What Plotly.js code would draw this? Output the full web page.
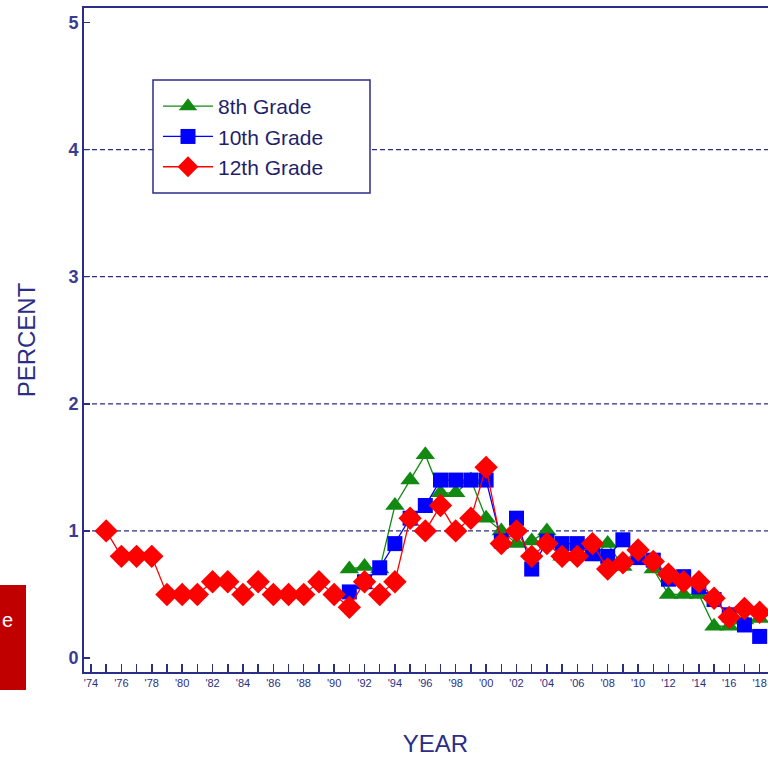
<!DOCTYPE html>
<html>
<head>
<meta charset="utf-8">
<script src="https://cdn.plot.ly/plotly-3.0.1.min.js"></script>
<style>html,body{margin:0;padding:0;overflow:hidden;background:#fff;}</style>
</head>
<body>
<div id="chart"></div>
<script>
const years12 = [1975,1976,1977,1978,1979,1980,1981,1982,1983,1984,1985,1986,1987,1988,1989,1990,1991,1992,1993,1994,1995,1996,1997,1998,1999,2000,2001,2002,2003,2004,2005,2006,2007,2008,2009,2010,2011,2012,2013,2014,2015,2016,2017,2018];
const grade12 = [1.0,0.8,0.8,0.8,0.5,0.5,0.5,0.6,0.6,0.5,0.6,0.5,0.5,0.5,0.6,0.5,0.4,0.6,0.5,0.6,1.1,1.0,1.2,1.0,1.1,1.5,0.9,1.0,0.8,0.9,0.8,0.8,0.9,0.7,0.75,0.85,0.76,0.66,0.6,0.6,0.47,0.32,0.39,0.36];
const years810 = [1991,1992,1993,1994,1995,1996,1997,1998,1999,2000,2001,2002,2003,2004,2005,2006,2007,2008,2009,2010,2011,2012,2013,2014,2015,2016,2017,2018];
const grade8 = [0.7,0.72,0.7,1.2,1.4,1.6,1.3,1.3,1.4,1.1,1.0,0.9,0.92,1.0,0.8,0.8,0.8,0.9,0.72,0.8,0.7,0.5,0.5,0.5,0.25,0.25,0.3,0.31];
const grade10 = [0.52,0.6,0.71,0.9,1.1,1.2,1.4,1.4,1.4,1.4,0.92,1.1,0.7,0.92,0.9,0.9,0.82,0.8,0.93,0.79,0.77,0.62,0.64,0.56,0.46,0.34,0.26,0.17];
const seriesNames = ["8th Grade","10th Grade","12th Grade"];
const tickYears = [];
for (let y = 1974; y <= 2019; y++) tickYears.push(y);
const tickLabels = tickYears.map(y => (y % 2 === 0 && y <= 2018) ? "'" + String(y).slice(2) : "");
const gridLevels = [1,2,3,4];

const navy = "#2b2e86";
const font = "Liberation Sans, Arial, sans-serif";
const PW = 703, PH = 664, PL = 84, PB = 672;
const px = v => (v - PL) / PW;
const py = v => (PB - v) / PH;

const traces = [
  {x: years810, y: grade8, name: seriesNames[0], mode: "lines+markers",
   line: {color: "#128a12", width: 1.3}, marker: {symbol: "triangle-up", size: 17, color: "#128a12"}},
  {x: years810, y: grade10, name: seriesNames[1], mode: "lines+markers",
   line: {color: "#0000ff", width: 1.3}, marker: {symbol: "square", size: 15, color: "#0000ff"}},
  {x: years12, y: grade12, name: seriesNames[2], mode: "lines+markers",
   line: {color: "#ff0000", width: 1.3}, marker: {symbol: "diamond", size: 18, color: "#ff0000"}}
];

const shapes = gridLevels.map(v => ({
  type: "line", xref: "paper", x0: 0, x1: 1, yref: "y", y0: v, y1: v,
  line: {color: navy, width: 1.3, dash: "5px,3px"}, layer: "below"
}));
// legend frame
shapes.push({type: "rect", xref: "paper", yref: "paper",
  x0: px(153), x1: px(370), y0: py(193), y1: py(80),
  fillcolor: "#fff", line: {color: navy, width: 1.5}, layer: "above"});
// red box at left edge
shapes.push({type: "rect", xref: "paper", yref: "paper",
  x0: px(0), x1: px(26), y0: py(690), y1: py(585),
  fillcolor: "#c00000", line: {width: 0}});

const layout = {
  width: 800, height: 757,
  margin: {l: 84, r: 13, t: 8, b: 85},
  paper_bgcolor: "#fff", plot_bgcolor: "#fff",
  font: {family: font, color: navy},
  showlegend: true,
  legend: {x: px(158), y: py(86), xanchor: "left", yanchor: "top",
    borderwidth: 0, bgcolor: "rgba(0,0,0,0)", itemwidth: 50,
    font: {size: 21, color: "#1f1f6b", family: font}},
  xaxis: {range: [1973.54, 2019.8], tickmode: "array", tickvals: tickYears, ticktext: tickLabels,
    ticks: "inside", ticklen: 8, tickwidth: 1.5, tickcolor: navy,
    showline: true, linecolor: navy, linewidth: 2, mirror: true, showgrid: false, zeroline: false,
    tickfont: {size: 11, color: navy, family: font},
    title: {text: "YEAR", font: {size: 24, color: navy, family: font}, standoff: 54}},
  yaxis: {range: [-0.11, 5.114], tickvals: [0,1,2,3,4,5], ticks: "inside", ticklen: 6, tickwidth: 1.5, tickcolor: navy,
    showline: true, linecolor: navy, linewidth: 2, mirror: true, showgrid: false, zeroline: false,
    tickfont: {size: 18, color: "#3a3c92", family: font, weight: "bold"},
    title: {text: "PERCENT", font: {size: 24, color: navy, family: font}, standoff: 26}},
  shapes: shapes,
  annotations: [{xref: "paper", yref: "paper", x: px(0), y: py(620), xanchor: "left", yanchor: "middle",
    text: "e", showarrow: false, font: {size: 20, color: "#fff", family: font}}]
};

Plotly.newPlot("chart", traces, layout, {displayModeBar: false, staticPlot: true});
</script>
</body>
</html>
